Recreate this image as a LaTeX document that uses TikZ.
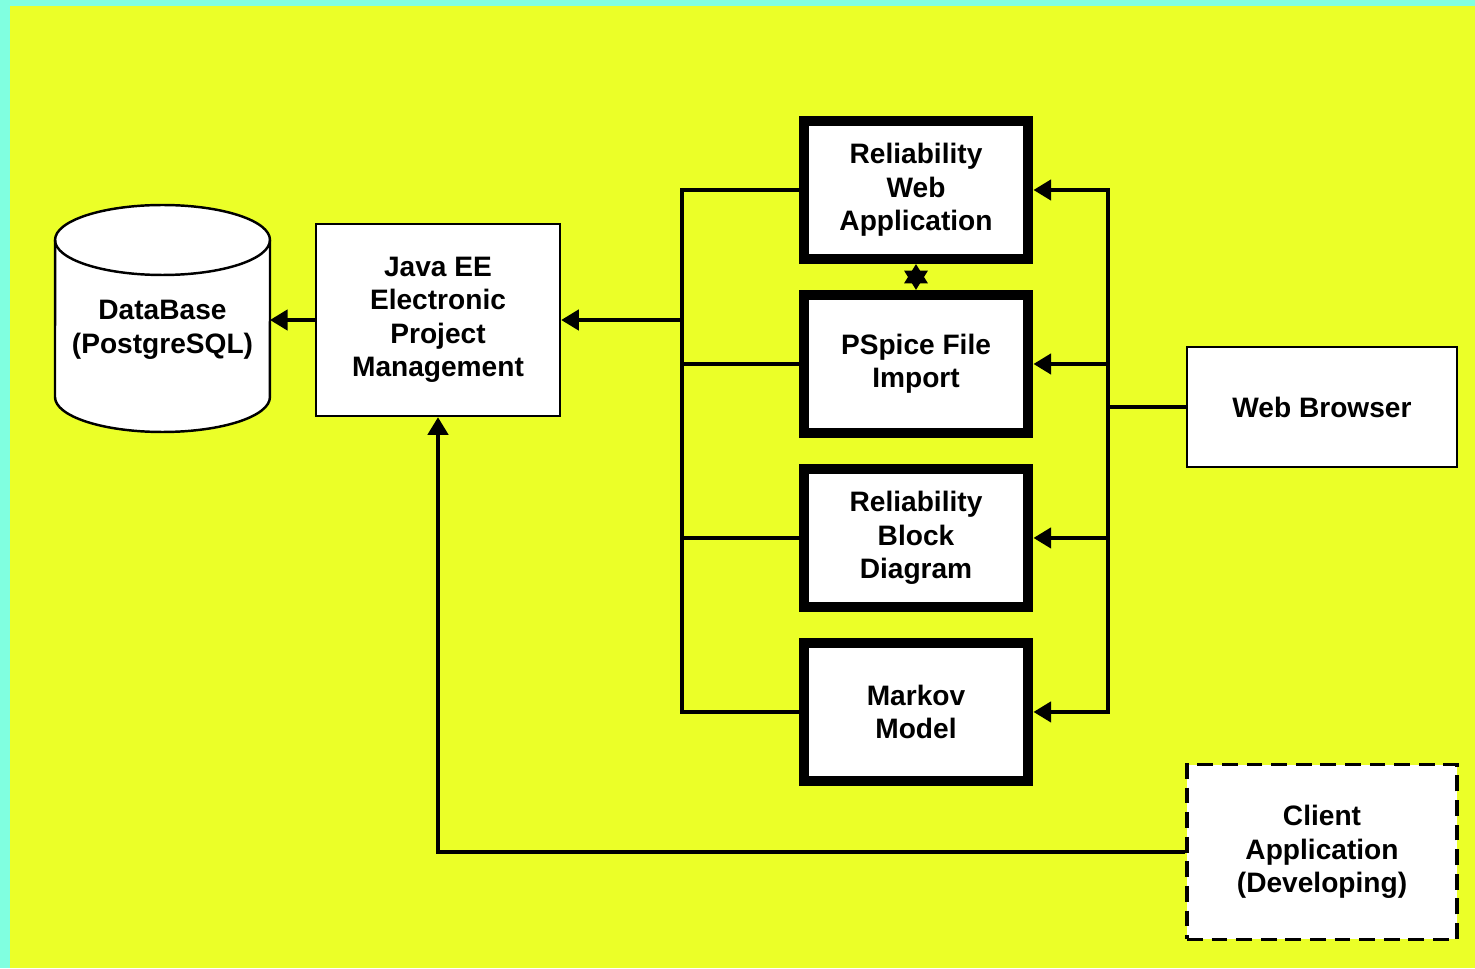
\documentclass[tikz,border=0pt]{standalone}
\usepackage{fontspec}
\setmainfont{Liberation Sans}
\usepackage{xcolor}
\usetikzlibrary{
    arrows.meta,
    positioning
}
\definecolor{bgyellow}{RGB}{235,255,40}
\definecolor{bgaqua}{RGB}{128,255,224}
\tikzstyle{module} = [
    rectangle, draw,
    line width=5.7pt,
    minimum width=4.5cm,
    minimum height=2.76cm,
    align=center,
    fill=white
]
\tikzstyle{arrow} = [
    line width=2.1pt,
    -{Triangle[length=10pt,width=11.5pt]}
]
\tikzstyle{link} = [
    line width=2.1pt,
    line cap=rect
]

\begin{document}
\begin{tikzpicture}[
    x=0.02cm, y=0.02cm,
    node distance=0.52cm,
    font=\bfseries\fontsize{16}{19}\selectfont,
    box/.style={
        draw,
        line width=1.4pt,
        align=center,
        fill=white
    }
]

% Hintergrund
\fill[bgaqua] (0,0) rectangle (1475,968);
\fill[bgyellow] (10,0) rectangle (1475,962);

% Datenbank
\draw[line width=1.4pt, fill=white] (55,571) arc[start angle=180, end angle=360, x radius=2.15cm, y radius=0.7cm]
    -- (270,728) arc[start angle=0, end angle=180, x radius=2.15cm, y radius=0.7cm] -- cycle;
\draw[line width=1.4pt] (55,728) arc[start angle=180, end angle=360, x radius=2.15cm, y radius=0.7cm];
\node[minimum width=4.3cm, minimum height=2.68cm, outer sep=0pt, align=center] (db) at (162.5,638) {DataBase\\(PostgreSQL)};

\node[box, minimum width=4.88cm, minimum height=3.84cm] (java) at (438,648) {Java EE\\Electronic\\Project\\Management};

% Module
\node[module] (rwa) at (916,778) {Reliability\\Web\\Application};
\node[module, below=of rwa] (pspice) {PSpice File\\Import};
\node[module, below=of pspice] (block) {Reliability\\Block\\Diagram};
\node[module, below=of block] (markov) {Markov\\Model};

% Clients
\node[box, minimum width=5.4cm, minimum height=2.4cm] (web) at (1322,561) {Web Browser};
\node[box, line width=1.8pt, dash pattern=on 9pt off 5pt, minimum width=5.4cm, minimum height=3.5cm] (client) at (1322,116) {Client\\Application\\(Developing)};

\coordinate (lbus) at (682,0);
\coordinate (rbus) at (1108,0);

% Verbindungen
\draw[link] (rwa.west -| lbus) -- (markov.west -| lbus);
\foreach \m in {rwa,pspice,block,markov}
    \draw[link] (\m.west) -- (\m.west -| lbus);
\draw[arrow] (java.east -| lbus) -- (java.east);
\draw[arrow] (java.west) -- (java.west -| db.east);

\draw[link] (rwa.east -| rbus) -- (markov.east -| rbus);
\foreach \m in {rwa,pspice,block,markov}
    \draw[arrow] (\m.east -| rbus) -- (\m.east);
\draw[link] (web.west) -- (web.west -| rbus);

\draw[line width=2.1pt, {Triangle[length=11pt,width=13pt]}-{Triangle[length=11pt,width=13pt]}] (rwa.south) -- (pspice.north);

\draw[arrow] (client.west) -| (java.south);

\end{tikzpicture}
\end{document}
